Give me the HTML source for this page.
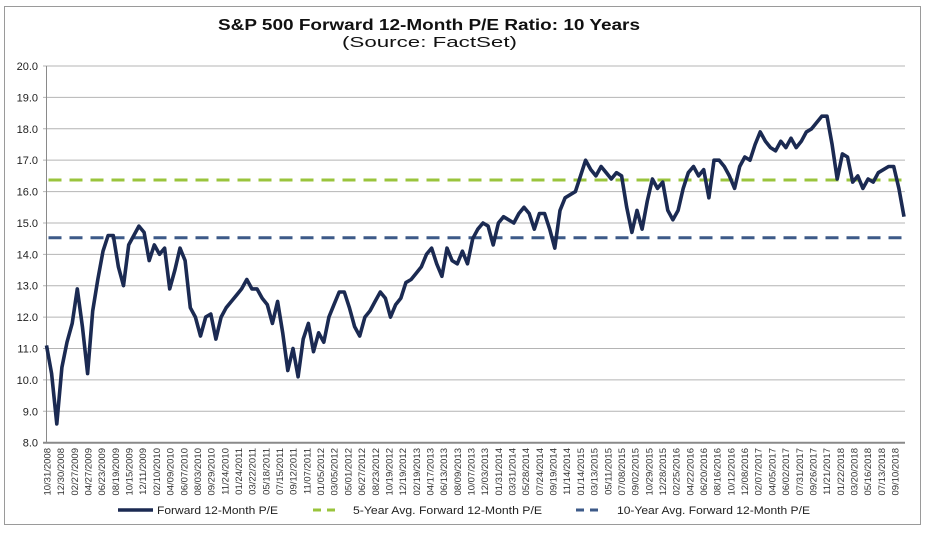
<!DOCTYPE html>
<html><head><meta charset="utf-8"><style>
body{margin:0;background:#fff;width:927px;height:530px;overflow:hidden;font-family:"Liberation Sans",sans-serif}
</style></head><body>
<svg width="927" height="530" viewBox="0 0 927 530" id="chart">
<rect x="4.5" y="6.5" width="916" height="518" fill="#fff" stroke="#9a9a9a"/>
<text x="218" y="30" textLength="422" lengthAdjust="spacingAndGlyphs" font-size="15.5" font-weight="bold" fill="#111">S&amp;P 500 Forward 12-Month P/E Ratio: 10 Years</text>
<text x="342" y="47" textLength="175" lengthAdjust="spacingAndGlyphs" font-size="15" fill="#111">(Source: FactSet)</text>
<g id="grid"></g><g id="xlabels"></g><g id="refs"></g><g id="series"></g>
<g>
<line x1="118" y1="510" x2="153" y2="510" stroke="#1b2a52" stroke-width="3.5"/>
<text x="157" y="514" textLength="121" lengthAdjust="spacingAndGlyphs" font-size="11" fill="#222">Forward 12-Month P/E</text>
<line x1="313" y1="510" x2="339" y2="510" stroke="#9ac43c" stroke-width="3" stroke-dasharray="8,6"/>
<text x="353" y="514" textLength="189" lengthAdjust="spacingAndGlyphs" font-size="11" fill="#222">5-Year Avg. Forward 12-Month P/E</text>
<line x1="576" y1="510" x2="602" y2="510" stroke="#3d5a88" stroke-width="3" stroke-dasharray="8,6"/>
<text x="617" y="514" textLength="193" lengthAdjust="spacingAndGlyphs" font-size="11" fill="#222">10-Year Avg. Forward 12-Month P/E</text>
</g>
</svg>
<script>
const yTicks=[8,9,10,11,12,13,14,15,16,17,18,19,20];
const xLabels=["10/31/2008","12/30/2008","02/27/2009","04/27/2009","06/23/2009","08/19/2009","10/15/2009","12/11/2009","02/10/2010","04/09/2010","06/07/2010","08/03/2010","09/29/2010","11/24/2010","01/24/2011","03/22/2011","05/18/2011","07/15/2011","09/12/2011","11/07/2011","01/05/2012","03/05/2012","05/01/2012","06/27/2012","08/23/2012","10/19/2012","12/19/2012","02/19/2013","04/17/2013","06/13/2013","08/09/2013","10/07/2013","12/03/2013","01/31/2014","03/31/2014","05/28/2014","07/24/2014","09/19/2014","11/14/2014","01/14/2015","03/13/2015","05/11/2015","07/08/2015","09/02/2015","10/29/2015","12/28/2015","02/25/2016","04/22/2016","06/20/2016","08/16/2016","10/12/2016","12/08/2016","02/07/2017","04/05/2017","06/02/2017","07/31/2017","09/26/2017","11/21/2017","01/22/2018","03/20/2018","05/16/2018","07/13/2018","09/10/2018"];
const peValues=[11.1,10.2,8.6,10.4,11.2,11.8,12.9,11.7,10.2,12.2,13.2,14.1,14.6,14.6,13.6,13.0,14.3,14.6,14.9,14.7,13.8,14.3,14.0,14.2,12.9,13.5,14.2,13.8,12.3,12.0,11.4,12.0,12.1,11.3,12.0,12.3,12.5,12.7,12.9,13.2,12.9,12.9,12.6,12.4,11.8,12.5,11.5,10.3,11.0,10.1,11.3,11.8,10.9,11.5,11.2,12.0,12.4,12.8,
12.8,12.3,11.7,11.4,12.0,12.2,12.5,12.8,12.6,12.0,12.4,12.6,13.1,13.2,13.4,13.6,14.0,14.2,13.7,13.3,14.2,13.8,13.7,14.1,13.7,14.5,14.8,15.0,14.9,14.3,15.0,15.2,15.1,15.0,15.3,15.5,15.3,14.8,15.3,15.3,14.8,14.2,15.4,15.8,15.9,16.0,16.5,17.0,16.7,16.5,16.8,16.6,16.4,
16.6,16.5,15.5,14.7,15.4,14.8,15.7,16.4,16.1,16.3,15.4,15.1,15.4,16.1,16.6,16.8,16.5,16.7,15.8,17.0,17.0,16.8,16.5,16.1,16.8,17.1,17.0,17.5,17.9,17.6,17.4,17.3,17.6,17.4,17.7,17.4,17.6,17.9,18.0,18.2,18.4,18.4,17.5,16.4,17.2,17.1,16.3,16.5,16.1,16.4,16.3,16.6,16.7,16.8,16.8,16.1,15.2];
const avg5=[16.37];
const avg10=[14.53];
const NS="http://www.w3.org/2000/svg";
const X0=46.5,X1=904,Y0=442.7,Y1=66;
const yScale=v=>Y0-(v-8)/(20-8)*(Y0-Y1);
const xIdx=i=>X0+i*(X1-X0)/(peValues.length-1);
const xLab=i=>47+i*(895-47)/(xLabels.length-1);
function mk(t,a,p){const e=document.createElementNS(NS,t);for(const k in a)e.setAttribute(k,a[k]);p.appendChild(e);return e;}
const grid=document.getElementById('grid');
yTicks.forEach(v=>{const y=yScale(v);
 const l=mk('line',{x1:43,x2:905,y1:y,y2:y,stroke:v===8?'#8a8a8a':'#b4b4b4','stroke-width':v===8?2:1},grid);
 
 
 const t=mk('text',{x:38,y:y+4,'text-anchor':'end','font-size':11,fill:'#222'},grid);t.textContent=v.toFixed(1);
 
 });
const ax=mk('line',{x1:X0,x2:X0,y1:Y1,y2:Y0,stroke:'#8a8a8a','stroke-width':1},grid);


const xl=document.getElementById('xlabels');
xLabels.forEach((s,i)=>{const x=xLab(i);
 const t=mk('text',{x:0,y:0,transform:`translate(${x+3.5},448) rotate(-90)`,'text-anchor':'end','font-size':9.5,fill:'#333'},xl);t.textContent=s;
 
 });
const refs=document.getElementById('refs');
const r5=mk('line',{x1:X0+2,x2:X1,y1:yScale(avg5[0]),y2:yScale(avg5[0]),stroke:'#9ac43c','stroke-width':3,'stroke-dasharray':'13,8'},refs);


const r10=mk('line',{x1:X0+2,x2:X1,y1:yScale(avg10[0]),y2:yScale(avg10[0]),stroke:'#3d5a88','stroke-width':3,'stroke-dasharray':'13,8'},refs);


const d=peValues.map((v,i)=>(i?'L':'M')+xIdx(i).toFixed(1)+','+yScale(v).toFixed(1)).join('');
const p=mk('path',{d:d,fill:'none',stroke:'#1b2a52','stroke-width':3.6,'stroke-linejoin':'round'},document.getElementById('series'));


</script>
</body></html>
